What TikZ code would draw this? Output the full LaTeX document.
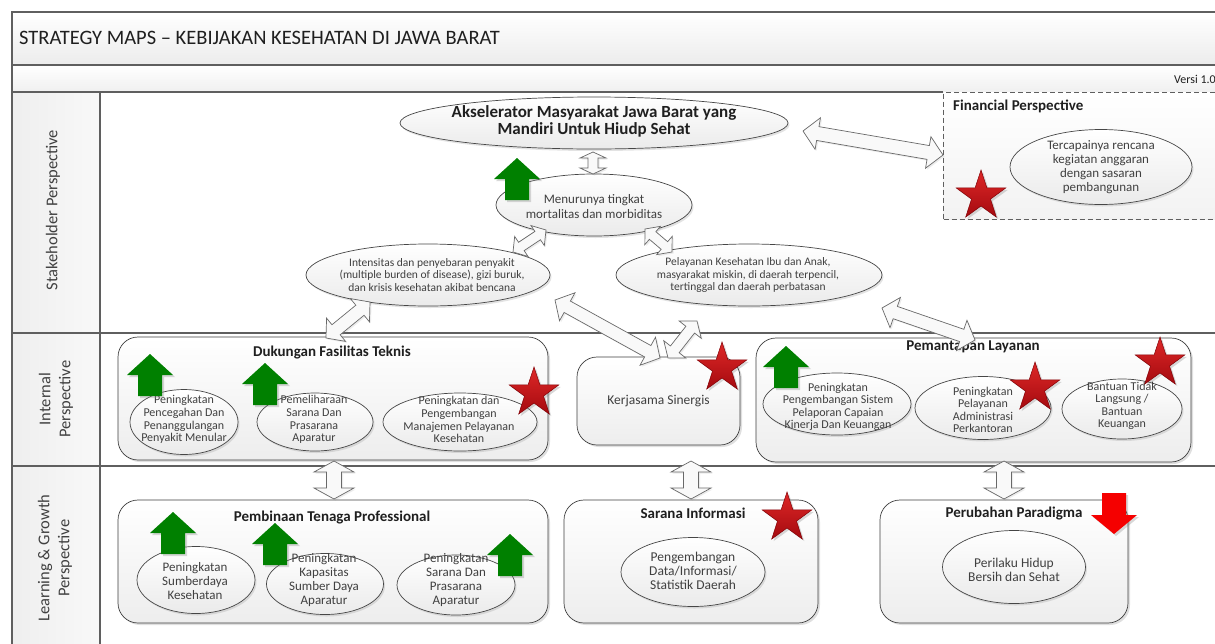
\documentclass[tikz,border=0pt]{standalone}
\usepackage{fontspec}
\setmainfont{Carlito}
\usetikzlibrary{calc,shapes.geometric,shadows}
\definecolor{txt}{HTML}{404040}
\definecolor{ttlc}{HTML}{1F1F1F}
\definecolor{framec}{HTML}{5F5F5F}
\definecolor{garrow}{RGB}{0,128,0}
\definecolor{rarrow}{RGB}{245,0,0}
\definecolor{starhi}{RGB}{222,40,40}
\definecolor{starlo}{RGB}{165,10,15}
\definecolor{stared}{RGB}{130,0,5}
\definecolor{fatline}{RGB}{105,105,105}
\newcommand\fsz[2]{\fontsize{#1}{#2}\selectfont}
\newcommand\fatarrow[5]{%
  \filldraw[fatarr] (#1)
   -- ($(#1)!#3!(#2)!#4!90:(#2)$)
   -- ($(#1)!#3!(#2)!#5!90:(#2)$)
   -- ($(#2)!#3!(#1)!#5!-90:(#1)$)
   -- ($(#2)!#3!(#1)!#4!-90:(#1)$)
   -- (#2)
   -- ($(#2)!#3!(#1)!#4!90:(#1)$)
   -- ($(#2)!#3!(#1)!#5!90:(#1)$)
   -- ($(#1)!#3!(#2)!#5!-90:(#2)$)
   -- ($(#1)!#3!(#2)!#4!-90:(#2)$)
   -- cycle;}
\tikzset{
  frameline/.style={draw=framec, line width=1.1pt},
  ellsh/.style={ellipse, draw=gray!55!black, line width=0.7pt, top color=white, bottom color=gray!16, inner sep=0pt,
    drop shadow={opacity=0.22, shadow xshift=1.5pt, shadow yshift=-2pt}},
  etxt/.style={align=center, text=txt, inner sep=0pt},
  boxsh/.style={rectangle, rounded corners=20pt, draw=gray!50!black, line width=0.7pt, top color=white, bottom color=gray!14,
    drop shadow={opacity=0.25, shadow xshift=2pt, shadow yshift=-2pt}},
  finbox/.style={rectangle, draw=framec, line width=1pt, dash pattern=on 5pt off 3pt, top color=white, bottom color=gray!10, inner sep=0pt},
  boxttl/.style={font=\bfseries\fsz{15}{18}, text=ttlc, inner sep=0pt},
  lanelbl/.style={rotate=90, align=center, font=\fsz{16.5}{20}, text=txt},
  fatarr/.style={draw=fatline, fill=gray!5, line width=0.7pt, line join=miter,
    drop shadow={opacity=0.15, shadow xshift=1.5pt, shadow yshift=-1.5pt}},
  redstar/.style={star, star points=5, star point ratio=2.6, minimum size=52pt, inner sep=0pt, draw=stared, line width=0.5pt,
    top color=starhi, bottom color=starlo, drop shadow={opacity=0.3, shadow xshift=2pt, shadow yshift=-2pt}},
  uparr/.pic={\fill[garrow, drop shadow={opacity=0.3, shadow xshift=2pt, shadow yshift=-2pt}]
     (-12,0) -- (-12,-21) -- (-23,-21) -- (0,-42) -- (23,-21) -- (12,-21) -- (12,0) -- cycle;},
  downarr/.pic={\fill[rarrow, drop shadow={opacity=0.3, shadow xshift=2pt, shadow yshift=-2pt}]
     (-12,0) -- (-12,22) -- (-23,22) -- (0,41) -- (23,22) -- (12,22) -- (12,0) -- cycle;}
}
\begin{document}
\begin{tikzpicture}[x=1pt,y=-1pt]
\useasboundingbox (0,0) rectangle (1215,643);
\clip (0,0) rectangle (1215,643);
% background and frame
\fill[white] (0,0) rectangle (1215,643);
\fill[top color=white, bottom color=gray!15] (12,12) rectangle (1230,65);
\fill[top color=white, bottom color=gray!12] (12,65) rectangle (1230,92);
\fill[left color=gray!13, right color=gray!5] (12,92) rectangle (100,660);
\draw[frameline] (12,660) -- (12,12) -- (1230,12);
\draw[frameline] (12,65) -- (1230,65);
\draw[frameline] (12,92) -- (943,92);
\draw[frameline] (12,333) -- (1230,333);
\draw[frameline] (12,466) -- (1230,466);
\draw[frameline] (100,92) -- (100,660);
% headings
\node[anchor=west, font=\fsz{20.5}{24}, text=ttlc, inner sep=0pt] (title) at (19,38) {STRATEGY MAPS -- KEBIJAKAN KESEHATAN DI JAWA BARAT};
\node[anchor=west, font=\fsz{12}{14}, text=ttlc, inner sep=0pt] (ver) at (1174,79) {Versi 1.0};
\node[lanelbl] (lane1) at (53,210) {Stakeholder Perspective};
\node[lanelbl] (lane2) at (56,399) {Internal\\Perspective};
\node[lanelbl] (lane3) at (55,558) {Learning \& Growth\\Perspective};
% financial perspective
\node[finbox, minimum width=300, minimum height=127, anchor=north west] (fin) at (943,92) {};
\node[boxttl, anchor=west] (fint) at (953,106) {Financial Perspective};
\node[ellsh, minimum width=182, minimum height=75] (ter) at (1101,167) {};
\node[etxt, font=\fsz{13}{14}] (tert) at (1101,167) {Tercapainya rencana\\kegiatan anggaran\\dengan sasaran\\pembangunan};
% stakeholder ellipses
\node[ellsh, minimum width=388, minimum height=52] (ak) at (594,123) {};
\node[etxt, font=\bfseries\fsz{17}{17}, text=ttlc] (akt) at (594,121) {Akselerator Masyarakat Jawa Barat yang\\Mandiri Untuk Hiudp Sehat};
\node[ellsh, minimum width=196, minimum height=62] (men) at (594,205) {};
\node[etxt, font=\fsz{13}{15}] (ment) at (594,207) {Menurunya tingkat\\mortalitas dan morbiditas};
\node[ellsh, minimum width=244, minimum height=62] (int) at (428,275) {};
\node[etxt, font=\fsz{11.5}{12.5}] (intt) at (432,275) {Intensitas dan penyebaran penyakit\\(multiple burden of disease), gizi buruk,\\dan krisis kesehatan akibat bencana};
\node[ellsh, minimum width=266, minimum height=62] (pel) at (749,275) {};
\node[etxt, font=\fsz{11.5}{12.5}] (pelt) at (748,275) {Pelayanan Kesehatan Ibu dan Anak,\\masyarakat miskin, di daerah terpencil,\\tertinggal dan daerah perbatasan};
% internal perspective
\node[boxsh, minimum width=430, minimum height=123] (duk) at (333,398.5) {};
\node[boxttl] (dukt) at (332,353) {Dukungan Fasilitas Teknis};
\node[ellsh, minimum width=108, minimum height=65] (e1) at (184,422) {};
\node[etxt, font=\fsz{12}{12.8}] (e1t) at (184,419.5) {Peningkatan\\Pencegahan Dan\\Penanggulangan\\Penyakit Menular};
\node[ellsh, minimum width=116, minimum height=58] (e2) at (315,422) {};
\node[etxt, font=\fsz{12}{12.8}] (e2t) at (314,419.5) {Pemeliharaan\\Sarana Dan\\Prasarana\\Aparatur};
\node[ellsh, minimum width=154, minimum height=58] (e3) at (460,422) {};
\node[etxt, font=\fsz{12}{12.8}] (e3t) at (459,419.5) {Peningkatan dan\\Pengembangan\\Manajemen Pelayanan\\Kesehatan};
\node[boxsh, minimum width=163, minimum height=88, font=\fsz{13.5}{16}, text=txt] (ker) at (658.5,401) {Kerjasama Sinergis};
\node[boxsh, minimum width=435, minimum height=124] (pem) at (973.5,400) {};
\node[boxttl] (pemt) at (973,347) {Pemantapan Layanan};
\node[ellsh, minimum width=148, minimum height=62] (p1) at (837,404) {};
\node[etxt, font=\fsz{12}{12.5}] (p1t) at (838,407) {Peningkatan\\Pengembangan Sistem\\Pelaporan Capaian\\Kinerja Dan Keuangan};
\node[ellsh, minimum width=136, minimum height=63] (p2) at (983,408) {};
\node[etxt, font=\fsz{12}{12.5}] (p2t) at (983,410) {Peningkatan\\Pelayanan\\Administrasi\\Perkantoran};
\node[ellsh, minimum width=120, minimum height=60] (p3) at (1122,409) {};
\node[etxt, font=\fsz{12}{12.5}] (p3t) at (1122,406) {Bantuan Tidak\\Langsung /\\Bantuan\\Keuangan};
% learning & growth
\node[boxsh, minimum width=430, minimum height=123] (pbn) at (333,561.5) {};
\node[boxttl] (pbnt) at (332,517) {Pembinaan Tenaga Professional};
\node[ellsh, minimum width=118, minimum height=67] (l1) at (196,580) {};
\node[etxt, font=\fsz{13}{14}] (l1t) at (195,581) {Peningkatan\\Sumberdaya\\Kesehatan};
\node[ellsh, minimum width=117, minimum height=61] (l2) at (325,584) {};
\node[etxt, font=\fsz{13}{14}] (l2t) at (324,580) {Peningkatan\\Kapasitas\\Sumber Daya\\Aparatur};
\node[ellsh, minimum width=118, minimum height=60] (l3) at (456,585) {};
\node[etxt, font=\fsz{13}{14}] (l3t) at (456,580) {Peningkatan\\Sarana Dan\\Prasarana\\Aparatur};
\node[boxsh, minimum width=254, minimum height=123] (sar) at (691,561.5) {};
\node[boxttl] (sart) at (693,513) {Sarana Informasi};
\node[ellsh, minimum width=144, minimum height=69] (s1) at (693,572) {};
\node[etxt, font=\fsz{13.5}{14}] (s1t) at (693,571) {Pengembangan\\Data/Informasi/\\Statistik Daerah};
\node[boxsh, minimum width=248, minimum height=123] (per) at (1004,561.5) {};
\node[boxttl] (pert) at (1014,513) {Perubahan Paradigma};
\node[ellsh, minimum width=143, minimum height=73] (r1) at (1014,567) {};
\node[etxt, font=\fsz{13.5}{14}] (r1t) at (1014,570) {Perilaku Hidup\\Bersih dan Sehat};
% connector end points
\coordinate (c1a) at (593,152); \coordinate (c1b) at (593,174);
\coordinate (c2a) at (803,131); \coordinate (c2b) at (943,155);
\coordinate (c3a) at (513,252); \coordinate (c3b) at (546,230);
\coordinate (c4a) at (645,229); \coordinate (c4b) at (672,252);
\coordinate (c5a) at (326,338); \coordinate (c5b) at (370,302);
\coordinate (c6a) at (555,300); \coordinate (c6b) at (660,358);
\coordinate (c7a) at (668,358); \coordinate (c7b) at (697,321);
\coordinate (c8a) at (882,308); \coordinate (c8b) at (975,340);
\coordinate (c9a) at (334,461); \coordinate (c9b) at (334,499);
\coordinate (c10a) at (691,461); \coordinate (c10b) at (691,499);
\coordinate (c11a) at (1004,461); \coordinate (c11b) at (1004,499);
% fat double arrows
\fatarrow{c1a}{c1b}{6pt}{13pt}{5pt}
\fatarrow{c2a}{c2b}{15pt}{16pt}{7pt}
\fatarrow{c3a}{c3b}{10pt}{12pt}{5pt}
\fatarrow{c4a}{c4b}{10pt}{12pt}{5pt}
\fatarrow{c5a}{c5b}{13pt}{15pt}{6.5pt}
\fatarrow{c6a}{c6b}{14pt}{16pt}{6.5pt}
\fatarrow{c7a}{c7b}{11pt}{14pt}{5.5pt}
\fatarrow{c8a}{c8b}{14pt}{16pt}{6.5pt}
\fatarrow{c9a}{c9b}{11pt}{20pt}{7.5pt}
\fatarrow{c10a}{c10b}{11pt}{20pt}{7.5pt}
\fatarrow{c11a}{c11b}{11pt}{20pt}{7.5pt}
% indicators
\pic at (517,200) {uparr};
\pic at (150,396) {uparr};
\pic at (265,405) {uparr};
\pic at (786,388) {uparr};
\pic at (173,554) {uparr};
\pic at (275,565) {uparr};
\pic at (510,576) {uparr};
\pic at (1114,493) {downarr};
\node[redstar] (st1) at (981,196) {};
\node[redstar] (st2) at (534,393) {};
\node[redstar] (st3) at (722,368) {};
\node[redstar] (st4) at (1035,388) {};
\node[redstar] (st5) at (1160,363) {};
\node[redstar] (st6) at (787,518) {};
\end{tikzpicture}
\end{document}
